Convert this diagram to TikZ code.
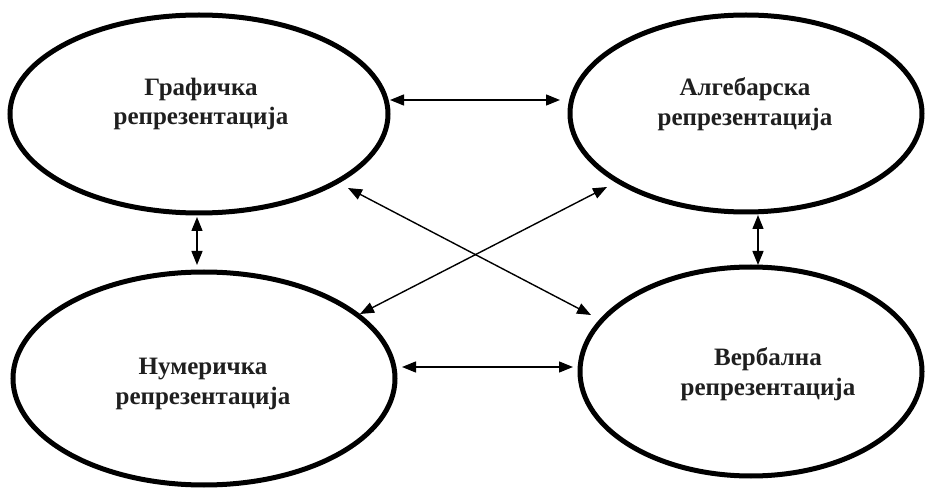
\documentclass[tikz,border=0pt]{standalone}
\usepackage{fontspec}
\setmainfont{Liberation Serif}
\usetikzlibrary{shapes.geometric,arrows.meta,calc}
\tikzset{
  repr/.style={ellipse, draw=black, line width=5pt, inner sep=0pt},
  rtext/.style={font=\bfseries\fontsize{25}{29.5}\selectfont, align=center, text=black!88},
  arr/.style={line width=1.4pt, {Triangle[length=14pt,width=11pt]}-{Triangle[length=14pt,width=11pt]}}
}
\begin{document}
\begin{tikzpicture}[x=1pt,y=-1pt]
\useasboundingbox[fill=white] (0,0) rectangle (927,489);
\node[repr, minimum width=378pt, minimum height=198pt,
  label={[rtext, xshift=2pt, yshift=10pt]center:Графичка\\репрезентација}] (g) at (199,114) {};
\node[repr, minimum width=352pt, minimum height=197pt,
  label={[rtext, xshift=-1pt, yshift=9.5pt]center:Алгебарска\\репрезентација}] (a) at (746,113.5) {};
\node[repr, minimum width=382pt, minimum height=213pt,
  label={[rtext, xshift=-1pt, yshift=-5.5pt]center:Нумеричка\\репрезентација}] (n) at (204,378.5) {};
\node[repr, minimum width=342pt, minimum height=209pt,
  label={[rtext, xshift=17pt, yshift=-2.5pt]center:Вербална\\репрезентација}] (v) at (751,371.5) {};
\draw[arr] ($(g)+(191,-14)$) -- ($(a)+(-186,-13.5)$);
\draw[arr] ($(n)+(198,-11.5)$) -- ($(v)+(-178,-4.5)$);
\draw[arr] ($(g)+(-2,103)$) -- ($(n)+(-7,-113.5)$);
\draw[arr] ($(a)+(12,101.5)$) -- ($(v)+(7,-106.5)$);
\draw[arr] ($(g)+(149,74)$) -- ($(v)+(-160,-56.5)$);
\draw[arr] ($(n)+(156,-64.5)$) -- ($(a)+(-139,73.5)$);
\end{tikzpicture}
\end{document}
